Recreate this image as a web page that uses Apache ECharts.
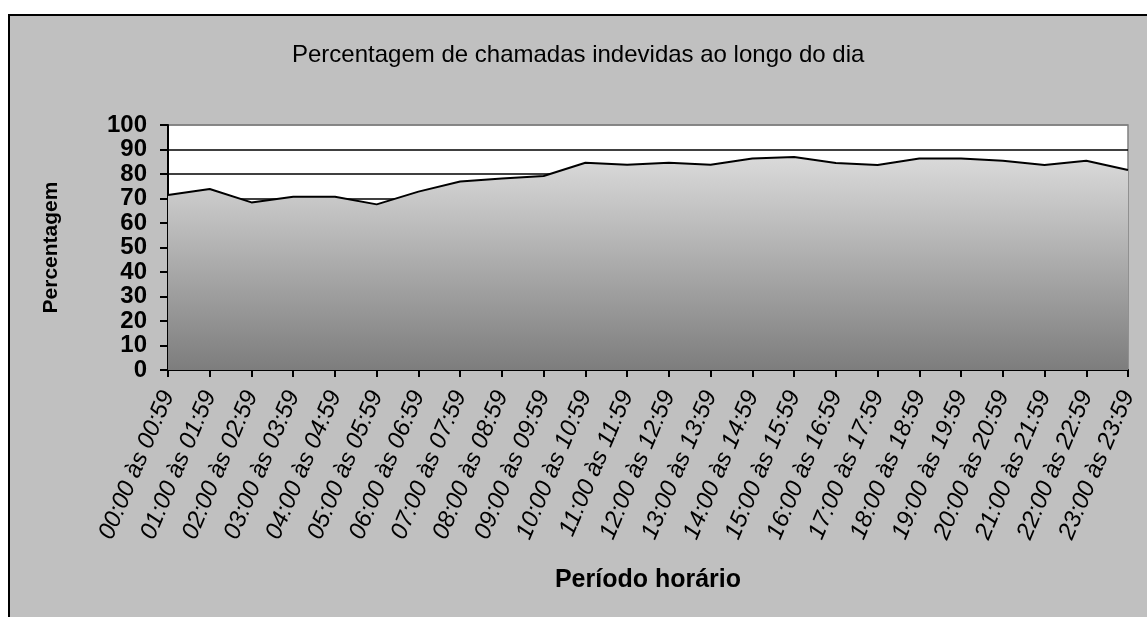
<!DOCTYPE html>
<html lang="pt">
<head>
    <meta charset="UTF-8">
    <title>Percentagem de chamadas indevidas ao longo do dia</title>
    <style>
        html, body { margin: 0; padding: 0; background: #fff; overflow: hidden; }
        /* moldura cinzenta do gráfico (estilo Excel) */
        .moldura {
            position: absolute; left: 8px; top: 14px;
            width: 1200px; height: 700px;
            background: #c0c0c0; border: 2px solid #000;
        }
        #grafico { position: absolute; left: 0; top: 0; width: 1147px; height: 617px; }
    </style>
    <script src="https://cdn.jsdelivr.net/npm/echarts@6/dist/echarts.min.js"></script>
</head>
<body>
    <div class="moldura"></div>
    <div id="grafico"></div>
    <script>
    // periodos horarios
    var periodos = [
        '00:00 às 00:59', '01:00 às 01:59', '02:00 às 02:59', '03:00 às 03:59',
        '04:00 às 04:59', '05:00 às 05:59', '06:00 às 06:59', '07:00 às 07:59',
        '08:00 às 08:59', '09:00 às 09:59', '10:00 às 10:59', '11:00 às 11:59',
        '12:00 às 12:59', '13:00 às 13:59', '14:00 às 14:59', '15:00 às 15:59',
        '16:00 às 16:59', '17:00 às 17:59', '18:00 às 18:59', '19:00 às 19:59',
        '20:00 às 20:59', '21:00 às 21:59', '22:00 às 22:59', '23:00 às 23:59'
    ];
    // percentagem de chamadas indevidas
    var percentagem = [
        71.4, 73.9, 68.4, 70.7, 70.7, 67.6, 72.8, 76.9, 78.2, 79.2, 84.6, 83.8,
        84.6, 83.8, 86.3, 86.9, 84.5, 83.7, 86.3, 86.3, 85.4, 83.7, 85.4, 81.6
    ];
    var titulo = 'Percentagem de chamadas indevidas ao longo do dia';
    var nomeX = 'Período horário';
    var nomeY = 'Percentagem';

    var dom = document.getElementById('grafico');
    var myChart = echarts.init(dom, null, { renderer: 'canvas' });

    var fonte = 'Arial, "Liberation Sans", sans-serif';

    // linhas de grelha pretas, a de cima (100) cinzenta como a moldura
    var coresGrelha = [];
    for (var i = 0; i < 10; i++) coresGrelha.push('#000');
    coresGrelha.push('#808080');

    var option = {
        animation: false,
        backgroundColor: 'transparent',
        textStyle: { fontFamily: fonte },
        title: {
            text: titulo,
            left: 292,
            top: 43,
            padding: 0,
            textStyle: { fontFamily: fonte, fontSize: 24, fontWeight: 'normal', color: '#000' }
        },
        grid: {
            left: 168, right: 19, top: 125, bottom: 247,
            show: true,
            backgroundColor: '#fff',
            borderColor: '#808080',
            borderWidth: 1.5
        },
        xAxis: {
            type: 'category',
            data: periodos,
            boundaryGap: false,
            name: nomeX,
            nameLocation: 'middle',
            nameGap: 198,
            nameTextStyle: { fontFamily: fonte, fontSize: 25, fontWeight: 'bold', color: '#000' },
            axisLine: { lineStyle: { color: '#000', width: 2 } },
            axisTick: { show: true, interval: 0, length: 7, lineStyle: { color: '#000', width: 2 } },
            axisLabel: {
                interval: 0,
                rotate: 67,
                margin: 22,
                fontFamily: fonte,
                fontSize: 24,
                fontStyle: 'italic',
                color: '#000'
            },
            splitLine: { show: false }
        },
        yAxis: {
            type: 'value',
            min: 0,
            max: 100,
            interval: 10,
            name: nomeY,
            nameLocation: 'middle',
            nameRotate: 90,
            nameGap: 106,
            nameTextStyle: { fontFamily: fonte, fontSize: 21, fontWeight: 'bold', color: '#000' },
            axisLine: { show: true, lineStyle: { color: '#000', width: 2 } },
            axisTick: { show: true, length: 8, lineStyle: { color: '#000', width: 2 } },
            axisLabel: {
                margin: 21,
                fontFamily: fonte,
                fontSize: 24,
                fontWeight: 'bold',
                color: '#000'
            },
            splitLine: { show: true, lineStyle: { color: coresGrelha, width: 1.5 } }
        },
        series: [
            {
                type: 'line',
                data: percentagem,
                symbol: 'none',
                z: 3,
                lineStyle: { color: '#000', width: 2 },
                areaStyle: {
                    opacity: 1,
                    color: new echarts.graphic.LinearGradient(0, 0, 0, 1, [
                        { offset: 0, color: '#dadada' },
                        { offset: 1, color: '#7d7d7d' }
                    ])
                }
            }
        ]
    };

    myChart.setOption(option);
    window.addEventListener('resize', myChart.resize);
    </script>
</body>
</html>
